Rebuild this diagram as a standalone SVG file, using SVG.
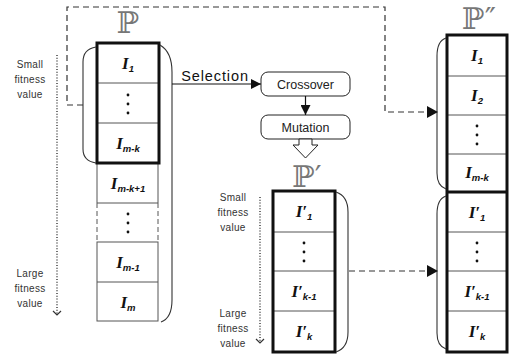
<svg xmlns="http://www.w3.org/2000/svg" width="510" height="356" viewBox="0 0 510 356">
<defs>
<marker id="ah" viewBox="0 0 10 10" refX="10" refY="5" markerWidth="10" markerHeight="10" markerUnits="userSpaceOnUse" orient="auto"><path d="M0,0 L10,5 L0,10 z" fill="#111"/></marker>
</defs>
<style>
.thick{fill:none;stroke:#111;stroke-width:3}
.thin{stroke:#555;stroke-width:1;fill:none}
.brace{fill:none;stroke:#333;stroke-width:1.1}
.dash{fill:none;stroke:#333;stroke-width:1.2;stroke-dasharray:6 4}
.dot{fill:none;stroke:#333;stroke-width:1.4;stroke-dasharray:1 1.8}
.chev{fill:none;stroke:#333;stroke-width:1.2}
.lbl{font-family:"Liberation Sans",Arial,sans-serif;font-size:10px;letter-spacing:0.3px;fill:#333;text-anchor:middle}
.I{font-family:"Liberation Serif","Times New Roman",serif;font-size:17px;font-weight:bold;font-style:italic;fill:#111;text-anchor:middle}
.sub{font-family:"Liberation Sans",Arial,sans-serif;font-size:9.5px;font-weight:bold;font-style:italic}
.bb{font-family:"DejaVu Serif","DejaVu Sans",serif;font-size:30px;fill:#777;text-anchor:middle}
.op{font-family:"Liberation Sans",Arial,sans-serif;font-size:12.5px;fill:#222;text-anchor:middle}
.box{fill:#fff;stroke:#222;stroke-width:1}
.d{fill:#111}
</style>

<g id="P">
<text class="bb" x="128" y="33">ℙ</text>
<rect x="97" y="163" width="61" height="158" fill="#fff" stroke="none"/>
<line class="thin" x1="97" y1="163" x2="97" y2="203"/><line class="thin" x1="158" y1="163" x2="158" y2="203"/>
<line class="thin" x1="97" y1="203" x2="158" y2="203"/>
<line class="thin" x1="97" y1="203" x2="97" y2="242" stroke-dasharray="5 3"/><line class="thin" x1="158" y1="203" x2="158" y2="242" stroke-dasharray="5 3"/>
<rect class="thin" x="97" y="242" width="61" height="79"/>
<line class="thin" x1="97" y1="282" x2="158" y2="282"/>
<line class="thin" x1="97" y1="83" x2="159" y2="83"/>
<line class="thin" x1="97" y1="123" x2="159" y2="123"/>
<rect class="thick" x="97" y="43" width="62" height="120"/>
<text class="I" x="128" y="69">I<tspan class="sub" dy="3">1</tspan></text>
<circle class="d" cx="128" cy="95" r="1.4"/><circle class="d" cx="128" cy="104" r="1.4"/><circle class="d" cx="128" cy="113" r="1.4"/>
<text class="I" x="128" y="149">I<tspan class="sub" dy="3">m-k</tspan></text>
<text class="I" x="128" y="189">I<tspan class="sub" dy="3">m-k+1</tspan></text>
<circle class="d" cx="128" cy="214" r="1.4"/><circle class="d" cx="128" cy="223" r="1.4"/><circle class="d" cx="128" cy="232" r="1.4"/>
<text class="I" x="128" y="268">I<tspan class="sub" dy="3">m-1</tspan></text>
<text class="I" x="128" y="308">I<tspan class="sub" dy="3">m</tspan></text>
<path class="brace" d="M96,47 Q83,49 83,62 L83,149 Q83,161 96,163"/>
<path class="brace" d="M160,45 Q172,52 172,72 L172,300 Q172,318 161,322"/>
<line class="dot" x1="57" y1="55" x2="57" y2="314"/>
<polyline class="chev" points="53,311 57,315 61,311"/>
<text class="lbl" x="30" y="68">Small</text><text class="lbl" x="30" y="83">fitness</text><text class="lbl" x="30" y="98">value</text>
<text class="lbl" x="30" y="277">Large</text><text class="lbl" x="30" y="292">fitness</text><text class="lbl" x="30" y="307">value</text>
</g>

<g id="crossover">
<rect class="box" x="261" y="72" width="89" height="24" rx="7"/>
<text class="op" x="305.5" y="88.5">Crossover</text>
</g>
<g id="mutation">
<rect class="box" x="261" y="115" width="89" height="24" rx="7"/>
<text class="op" x="305.5" y="131.5">Mutation</text>
</g>

<g id="Pprime">
<text class="bb" x="307" y="187">ℙ′</text>
<line class="thin" x1="273" y1="232" x2="335" y2="232"/>
<line class="thin" x1="273" y1="271" x2="335" y2="271"/>
<line class="thin" x1="273" y1="311" x2="335" y2="311"/>
<rect class="thick" x="273" y="191" width="62" height="161"/>
<text class="I" x="304" y="217">I′<tspan class="sub" dy="3">1</tspan></text>
<circle class="d" cx="304" cy="243" r="1.4"/><circle class="d" cx="304" cy="252" r="1.4"/><circle class="d" cx="304" cy="261" r="1.4"/>
<text class="I" x="304" y="297">I′<tspan class="sub" dy="3">k-1</tspan></text>
<text class="I" x="304" y="337">I′<tspan class="sub" dy="3">k</tspan></text>
<path class="brace" d="M336,192 Q348,196 348,212 L348,332 Q348,348 336,352"/>
<line class="dot" x1="260" y1="197" x2="260" y2="342"/>
<polyline class="chev" points="256,339 260,343 264,339"/>
<text class="lbl" x="233" y="201">Small</text><text class="lbl" x="233" y="216">fitness</text><text class="lbl" x="233" y="231">value</text>
<text class="lbl" x="233" y="317">Large</text><text class="lbl" x="233" y="332">fitness</text><text class="lbl" x="233" y="347">value</text>
</g>

<g id="Pdoubleprime">
<text class="bb" x="479" y="29">ℙ″</text>
<line class="thin" x1="447" y1="76" x2="507" y2="76"/>
<line class="thin" x1="447" y1="115" x2="507" y2="115"/>
<line class="thin" x1="447" y1="154" x2="507" y2="154"/>
<line class="thin" x1="447" y1="232" x2="507" y2="232"/>
<line class="thin" x1="447" y1="271" x2="507" y2="271"/>
<line class="thin" x1="447" y1="311" x2="507" y2="311"/>
<rect class="thick" x="447" y="35" width="60" height="317"/>
<line class="thick" x1="447" y1="192" x2="507" y2="192"/>
<text class="I" x="477" y="61">I<tspan class="sub" dy="3">1</tspan></text>
<text class="I" x="477" y="101">I<tspan class="sub" dy="3">2</tspan></text>
<circle class="d" cx="477" cy="126" r="1.4"/><circle class="d" cx="477" cy="135" r="1.4"/><circle class="d" cx="477" cy="144" r="1.4"/>
<text class="I" x="477" y="178">I<tspan class="sub" dy="3">m-k</tspan></text>
<text class="I" x="477" y="218">I′<tspan class="sub" dy="3">1</tspan></text>
<circle class="d" cx="477" cy="243" r="1.4"/><circle class="d" cx="477" cy="252" r="1.4"/><circle class="d" cx="477" cy="261" r="1.4"/>
<text class="I" x="477" y="297">I′<tspan class="sub" dy="3">k-1</tspan></text>
<text class="I" x="477" y="337">I′<tspan class="sub" dy="3">k</tspan></text>
<path class="brace" d="M446,38 Q437,41 437,56 L437,173 Q437,186 446,189"/>
<path class="brace" d="M446,196 Q437,199 437,214 L437,333 Q437,346 446,349"/>
</g>

<g id="connectors">
<path class="dash" d="M83,105 H67 V7 H385 V112 H428"/>
<polygon points="427,106 438,112 427,118" fill="#111"/>
<path class="dash" d="M349,271 H428"/>
<polygon points="427,265 438,271 427,277" fill="#111"/>
<line x1="172" y1="84" x2="261" y2="84" stroke="#111" stroke-width="1.2" marker-end="url(#ah)"/>
<text x="215" y="80.5" font-family="Liberation Sans, Arial, sans-serif" font-size="14.5" letter-spacing="0.9" fill="#111" text-anchor="middle">Selection</text>
<line x1="305.5" y1="96" x2="305.5" y2="115" stroke="#111" stroke-width="1.2" marker-end="url(#ah)"/>
<polygon points="299,139 312,139 312,145 318,145 305.5,158 293,145 299,145" fill="#fff" stroke="#222" stroke-width="1"/>
</g>
</svg>
